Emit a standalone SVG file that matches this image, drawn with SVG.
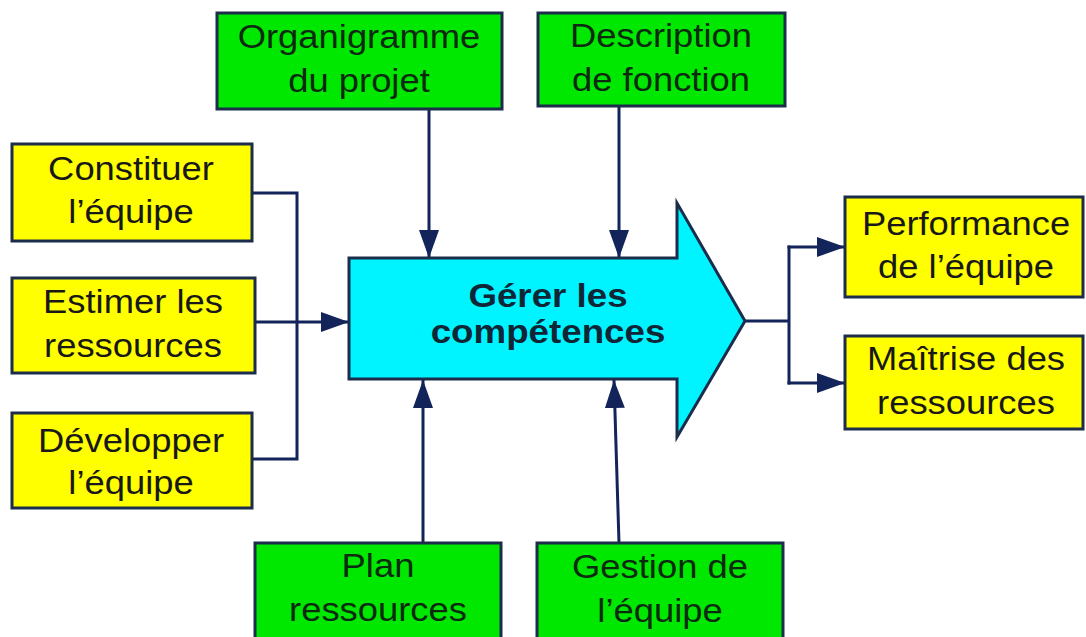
<svg xmlns="http://www.w3.org/2000/svg" width="1086" height="637" viewBox="0 0 1086 637">
<style>
.g{fill:#00e800;stroke:#1b2d4a;stroke-width:3}
.y{fill:#ffff00;stroke:#1b2d4a;stroke-width:3}
.t{font-family:"Liberation Sans",Arial,sans-serif;font-size:34px;text-anchor:middle;fill:#181818}
.tg{fill:#0c2a10}
.b{font-family:"Liberation Sans",Arial,sans-serif;font-size:34px;font-weight:bold;text-anchor:middle;fill:#0f2636}
.c{fill:none;stroke:#13245a;stroke-width:3}
</style>
<defs>
<marker id="ah" markerUnits="userSpaceOnUse" markerWidth="28" markerHeight="20" refX="28" refY="10" orient="auto">
<path d="M0,0 L28,10 L0,20 z" fill="#13245a"/>
</marker>
</defs>
<rect width="1086" height="637" fill="#ffffff"/>
<g id="connectors">
<polyline class="c" points="252,193 297,193 297,459 252,459"/>
<line class="c" x1="255" y1="322" x2="349" y2="322" marker-end="url(#ah)"/>
<line class="c" x1="429" y1="109" x2="429" y2="258" marker-end="url(#ah)"/>
<line class="c" x1="619" y1="106" x2="619" y2="258" marker-end="url(#ah)"/>
<line class="c" x1="423" y1="543" x2="423" y2="380" marker-end="url(#ah)"/>
<line class="c" x1="619" y1="543" x2="614" y2="380" marker-end="url(#ah)"/>
<line class="c" x1="745" y1="321" x2="789" y2="321"/>
<line class="c" x1="789" y1="245.5" x2="789" y2="384.5"/>
<line class="c" x1="787.5" y1="247" x2="845" y2="247" marker-end="url(#ah)"/>
<line class="c" x1="787.5" y1="383" x2="845" y2="383" marker-end="url(#ah)"/>
</g>
<g id="center">
<polygon points="349,258 677,258 677,203 745,321 677,437 677,379 349,379" fill="#00f4ff" stroke="#1b2d4a" stroke-width="3"/>
<text class="b" transform="translate(548,0) scale(1.08,1)"><tspan x="0" y="307">Gérer les</tspan><tspan x="0" y="343">compétences</tspan></text>
</g>
<g id="organigramme">
<rect class="g" x="217" y="13" width="285" height="96"/>
<text class="t tg" transform="translate(359,0) scale(1.07,1)"><tspan x="0" y="48">Organigramme</tspan><tspan x="0" y="92">du projet</tspan></text>
</g>
<g id="description">
<rect class="g" x="538" y="13" width="247" height="93"/>
<text class="t tg" transform="translate(661,0) scale(1.07,1)"><tspan x="0" y="47">Description</tspan><tspan x="0" y="91">de fonction</tspan></text>
</g>
<g id="constituer">
<rect class="y" x="12" y="144" width="240" height="97"/>
<text class="t" transform="translate(131,0) scale(1.07,1)"><tspan x="0" y="180">Constituer</tspan><tspan x="0" y="223">l’équipe</tspan></text>
</g>
<g id="estimer">
<rect class="y" x="12" y="278" width="243" height="95"/>
<text class="t" transform="translate(133,0) scale(1.07,1)"><tspan x="0" y="313">Estimer les</tspan><tspan x="0" y="357">ressources</tspan></text>
</g>
<g id="developper">
<rect class="y" x="12" y="413" width="240" height="95"/>
<text class="t" transform="translate(131,0) scale(1.07,1)"><tspan x="0" y="452">Développer</tspan><tspan x="0" y="494">l’équipe</tspan></text>
</g>
<g id="plan">
<rect class="g" x="255" y="543" width="246" height="110"/>
<text class="t tg" transform="translate(378,0) scale(1.07,1)"><tspan x="0" y="577">Plan</tspan><tspan x="0" y="621">ressources</tspan></text>
</g>
<g id="gestion">
<rect class="g" x="537" y="543" width="246" height="110"/>
<text class="t tg" transform="translate(660,0) scale(1.07,1)"><tspan x="0" y="578">Gestion de</tspan><tspan x="0" y="622">l’équipe</tspan></text>
</g>
<g id="performance">
<rect class="y" x="845" y="197" width="238" height="100"/>
<text class="t" transform="translate(966,0) scale(1.07,1)"><tspan x="0" y="235">Performance</tspan><tspan x="0" y="278">de l’équipe</tspan></text>
</g>
<g id="maitrise">
<rect class="y" x="845" y="336" width="238" height="93"/>
<text class="t" transform="translate(966,0) scale(1.07,1)"><tspan x="0" y="370">Maîtrise des</tspan><tspan x="0" y="414">ressources</tspan></text>
</g>
</svg>
